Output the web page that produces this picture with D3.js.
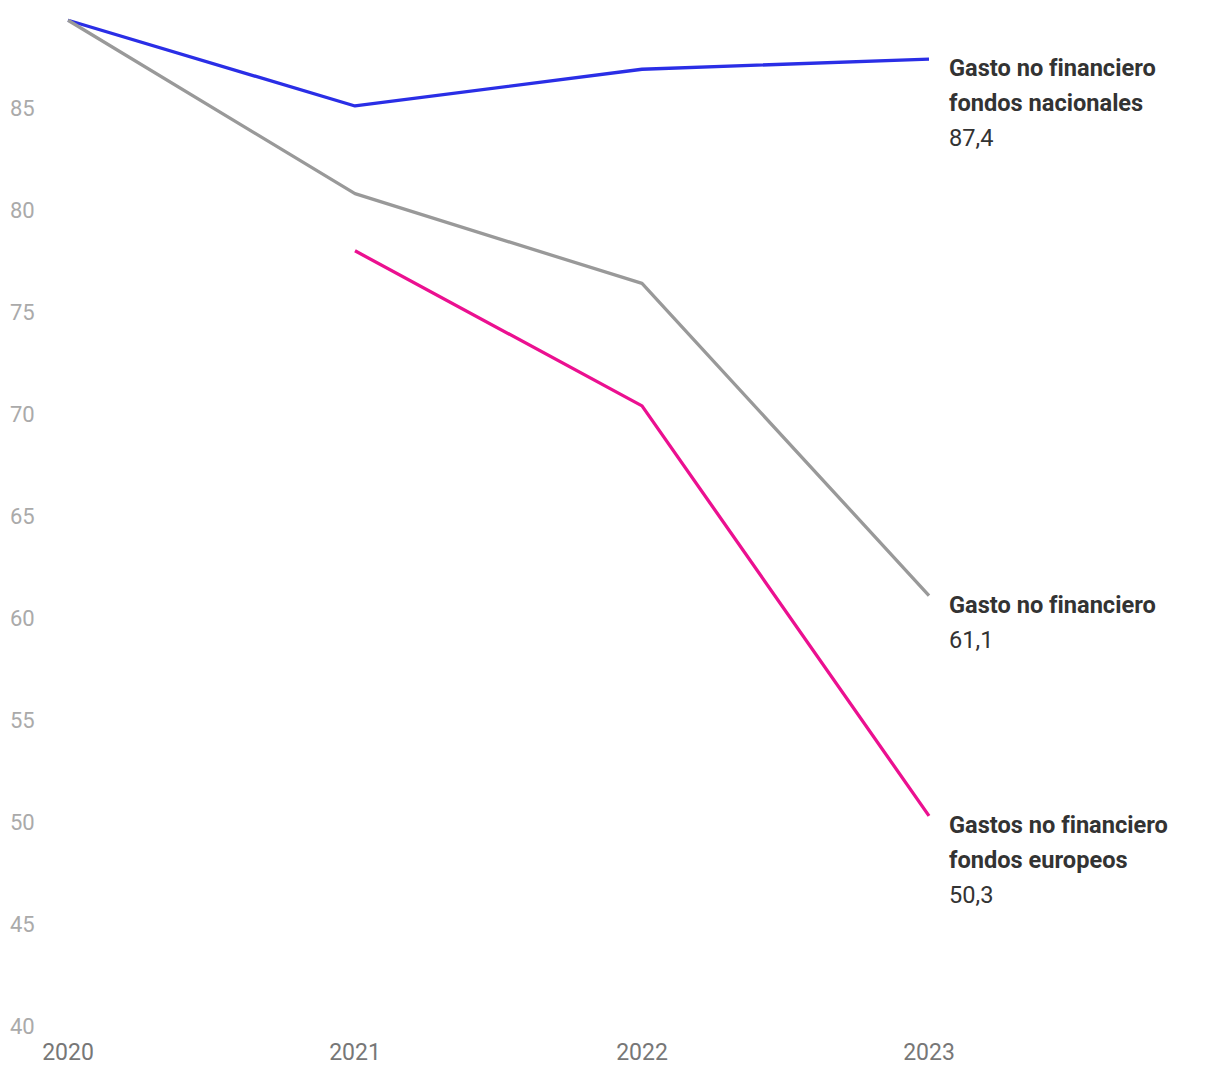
<!DOCTYPE html>
<html>
<head>
<meta charset="utf-8">
<script src="https://cdn.jsdelivr.net/npm/d3@7"></script>
<style>
    body { margin: 0; background: #fff; }
    svg { font-family: Roboto, "Noto Sans", sans-serif; font-variant-ligatures: none; }
</style>
</head>
<body>
<div id="chart"></div>
<script>
// data
var years = [2020, 2021, 2022, 2023];
var yTicks = [40, 45, 50, 55, 60, 65, 70, 75, 80, 85];
var nacionales = [89.3, 85.1, 86.9, 87.4];
var total = [89.3, 80.8, 76.4, 61.1];
var europeos = [null, 78.0, 70.4, 50.3];

var series = [
    {name: ["Gasto no financiero", "fondos nacionales"], values: nacionales, color: "#2a2ee6"},
    {name: ["Gasto no financiero"], values: total, color: "#999999"},
    {name: ["Gastos no financiero", "fondos europeos"], values: europeos, color: "#eb1090"}
];

var width = 1220, height = 1084;
var margin = {top: 0, right: 291, bottom: 58, left: 68};

var svg = d3.select("#chart").append("svg")
    .attr("width", width)
    .attr("height", height);

var x = d3.scaleLinear()
    .domain([2020, 2023])
    .range([margin.left, width - margin.right]);

var y = d3.scaleLinear()
    .domain([40, 90])
    .range([height - margin.bottom, height - margin.bottom - 50 * 20.4]);

// y axis labels
svg.append("g")
    .selectAll("text")
    .data(yTicks)
    .enter().append("text")
    .attr("x", 10)
    .attr("y", function(d) { return y(d); })
    .attr("dy", "0.35em")
    .attr("fill", "#aaaaaa")
    .attr("font-size", "22px")
    .text(function(d) { return d; });

// x axis labels
svg.append("g")
    .selectAll("text")
    .data(years)
    .enter().append("text")
    .attr("x", function(d) { return x(d); })
    .attr("y", 1060)
    .attr("text-anchor", "middle")
    .attr("fill", "#777777")
    .attr("font-size", "23px")
    .text(function(d) { return d; });

var line = d3.line()
    .defined(function(d) { return d != null; })
    .x(function(d, i) { return x(years[i]); })
    .y(function(d) { return y(d); });

svg.append("g")
    .selectAll("path")
    .data(series)
    .enter().append("path")
    .attr("d", function(d) { return line(d.values); })
    .attr("fill", "none")
    .attr("stroke", function(d) { return d.color; })
    .attr("stroke-width", 3.3)
    .attr("stroke-linejoin", "round");

// end labels
var labels = svg.append("g")
    .selectAll("text")
    .data(series)
    .enter().append("text")
    .attr("x", x(2023) + 20)
    .attr("y", function(d) { return y(d.values[d.values.length - 1]) + 17; })
    .attr("font-size", "23.6px")
    .attr("fill", "#333333");

labels.each(function(d) {
    var t = d3.select(this);
    var last = d.values[d.values.length - 1];
    d.name.forEach(function(n, i) {
        t.append("tspan")
            .attr("x", x(2023) + 20)
            .attr("dy", i === 0 ? 0 : 35)
            .attr("font-weight", "bold")
            .text(n);
    });
    t.append("tspan")
        .attr("x", x(2023) + 20)
        .attr("dy", 35)
        .text(String(last).replace(".", ","));
});
</script>
</body>
</html>
